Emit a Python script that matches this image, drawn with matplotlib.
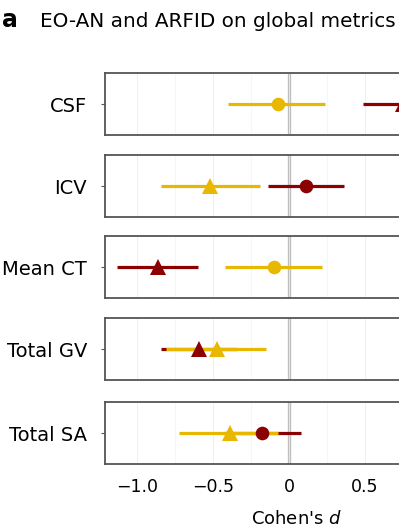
import numpy as np
import matplotlib
matplotlib.use('Agg')
import matplotlib.pyplot as plt
from matplotlib.ticker import MultipleLocator

# Datos (Cohen's d con intervalos)
metrics = ['CSF', 'ICV', 'Mean CT', 'Total GV', 'Total SA']

yellow_d = [-0.07, -0.52, -0.10, -0.475, -0.39]
yellow_lo = [-0.40, -0.84, -0.42, -0.81, -0.72]
yellow_hi = [0.24, -0.19, 0.22, -0.15, -0.07]
yellow_mk = ['o', '^', 'o', '^', '^']

red_d = [0.75, 0.11, -0.86, -0.59, -0.175]
red_lo = [0.49, -0.14, -1.13, -0.84, -0.43]
red_hi = [1.01, 0.36, -0.60, -0.34, 0.08]
red_mk = ['^', 'o', '^', '^', 'o']

xticks = [-1.0, -0.5, 0, 0.5]
xticklabels = ['\u22121.0', '\u22120.5', '0', '0.5']

YELLOW = '#E8B800'
RED = '#8B0000'

plt.rcParams['font.family'] = ['DejaVu Sans']

fig = plt.figure(figsize=(3.99, 5.31), dpi=100)

# posiciones de paneles (fraccion de figura), el panel sigue fuera del borde derecho
bottoms = [0.7458, 0.5913, 0.4388, 0.2844, 0.1262]
height = 0.116
left = 0.263
width = 0.922

def msize(m):
    return 12 if m == '^' else 9.8

for i, name in enumerate(metrics):
    ax = fig.add_axes([left, bottoms[i], width, height])
    ax.set_xlim(-1.21, 1.21)
    ax.set_ylim(-1, 1)
    ax.xaxis.set_major_locator(MultipleLocator(0.5))
    ax.xaxis.set_minor_locator(MultipleLocator(0.25))
    ax.grid(axis='x', which='major', color='#ececec', lw=0.6, zorder=0)
    ax.grid(axis='x', which='minor', color='#f5f5f5', lw=0.6, zorder=0)
    ax.axvline(0, color='#bfbfbf', lw=2.4, zorder=1)

    ax.plot([red_lo[i], red_hi[i]], [0, 0], color=RED, lw=2.3,
            solid_capstyle='butt', zorder=2)
    ax.plot([yellow_lo[i], yellow_hi[i]], [0, 0], color=YELLOW, lw=2.3,
            solid_capstyle='butt', zorder=3)
    ax.plot([yellow_d[i]], [0], marker=yellow_mk[i], color=YELLOW,
            ms=msize(yellow_mk[i]), mew=0, zorder=4)
    ax.plot([red_d[i]], [0], marker=red_mk[i], color=RED,
            ms=msize(red_mk[i]), mew=0, zorder=5)

    ax.set_yticks([0])
    ax.set_yticklabels([name], fontsize=14)
    ax.tick_params(axis='y', length=3, color='#555555', pad=10)
    ax.tick_params(axis='x', which='both', length=0)
    for s in ax.spines.values():
        s.set_color('#555555')
        s.set_linewidth(1.3)
    if i < len(metrics) - 1:
        ax.set_xticklabels([])
    else:
        ax.set_xticks(xticks)
        ax.set_xticklabels(xticklabels, fontsize=12.5)
        ax.xaxis.set_minor_locator(MultipleLocator(0.25))
        ax.tick_params(axis='x', pad=10)
        ax.set_xlabel("Cohen's $\\mathit{d}$", fontsize=13)
        ax.xaxis.set_label_coords(0.52, -0.74)
        ax.xaxis.label.set_va('top')

fig.text(0.005, 0.962, 'a', fontsize=17, fontweight='bold', va='center')
fig.text(0.10, 0.960, 'EO-AN and ARFID on global metrics', fontsize=14.4, va='center')

fig.savefig('out.png', dpi=100)
